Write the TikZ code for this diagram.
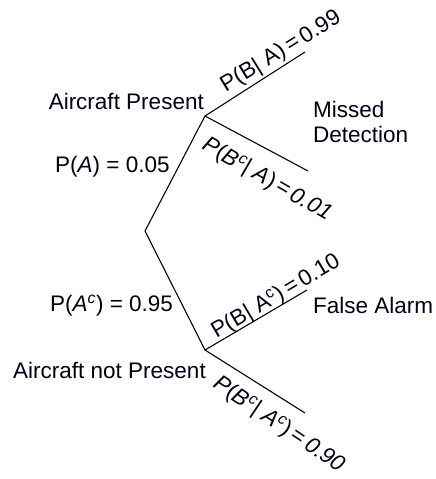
\documentclass[tikz,border=0pt]{standalone}
\usepackage{fontspec}
\setmainfont{Liberation Sans}
\begin{document}
\begin{tikzpicture}[x=1pt,y=-1pt,
  lbl/.style={inner sep=0pt,font=\fontsize{22.5}{25}\selectfont,text=black!85!blue!60!black},
  branch/.style={line width=1.1pt,black!85!blue!60!black}]
\useasboundingbox (0,0) rectangle (436,479);
\coordinate (root) at (145,231);
\coordinate (up) at (205,116);
\coordinate (lo) at (205,350);
\coordinate (hit) at (305,52);
\coordinate (miss) at (308,171);
\coordinate (fa) at (307,290);
\coordinate (cr) at (305,413);
\draw[branch] (up) -- (root) -- (lo);
\draw[branch] (hit) -- (up) -- (miss);
\draw[branch] (fa) -- (lo) -- (cr);
\node[lbl,anchor=base east] (tp) at (204,109) {Aircraft Present};
\node[lbl,anchor=base west] (tn) at (13,378) {Aircraft not Present};
\node[lbl,anchor=base west,align=left] (md) at (313,142) {Missed\\Detection};
\node[lbl,anchor=base west] (fal) at (313,313) {False Alarm};
\node[lbl,anchor=base west] (pa) at (55,172) {P(\textit{A}) = 0.05};
\node[lbl,anchor=base west] (pac) at (50,311) {P(\textit{A}\textsuperscript{\textit{c}}) = 0.95};
\node[lbl,rotate=31.6] (l1) at (281,52) {P(B| A)\,=\,0.99};
\node[lbl,rotate=-30] (l2) at (267,180) {\textit{P}(\textit{B}\textsuperscript{\textit{c}}| \textit{A})\,=\,\textit{0.01}};
\node[lbl,rotate=30.6] (l3) at (276,297) {P(B| A\textsuperscript{c})\,=\,0.10};
\node[lbl,rotate=-34] (l4) at (279,425) {\textit{P}(\textit{B}\textsuperscript{\textit{c}}| \textit{A}\textsuperscript{\textit{c}})\,=\,\textit{0.90}};
\end{tikzpicture}
\end{document}
